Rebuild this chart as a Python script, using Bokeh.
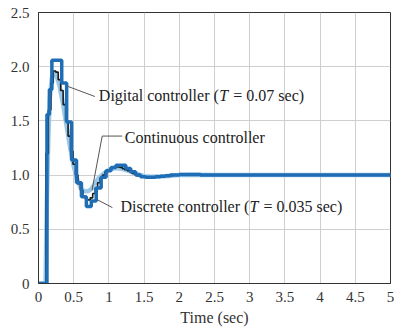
from bokeh.plotting import figure
from bokeh.models import Range1d, FixedTicker
from bokeh.core.properties import value
from bokeh.embed import file_html
from bokeh.resources import INLINE

# ---- data ----
# continuous controller (smooth)
cont_t = [0, 0.10, 0.12, 0.14, 0.16, 0.19, 0.22, 0.25, 0.30, 0.35, 0.40, 0.45, 0.50, 0.55, 0.60,
          0.65, 0.70, 0.75, 0.80, 0.85, 0.90, 1.00, 1.10, 1.20, 1.30, 1.40, 1.50, 1.60, 1.80,
          2.00, 2.20, 2.50, 5.00]
cont_y = [0, 0, 0.80, 1.35, 1.70, 1.90, 1.95, 1.93, 1.82, 1.65, 1.45, 1.25, 1.08, 0.96, 0.88,
          0.85, 0.85, 0.87, 0.92, 0.97, 1.00, 1.05, 1.065, 1.055, 1.035, 1.01, 0.99, 0.985, 0.99,
          1.0, 1.004, 1.0, 1.0]

# discrete controller T = 0.035 (thin black staircase)
disc_t = [0, 0.105, 0.14, 0.175, 0.21, 0.245, 0.28, 0.315, 0.35, 0.385, 0.42, 0.455, 0.49, 0.525,
          0.56, 0.595, 0.63, 0.665, 0.70, 0.735, 0.77, 0.805, 0.84, 0.875, 0.91, 0.945, 0.98,
          1.015, 1.05, 1.085, 1.12, 1.155, 1.19, 1.225, 1.26, 1.295, 1.33, 1.365, 1.40, 1.435,
          1.47, 1.60, 1.70, 1.80, 1.90, 2.00, 2.30, 5.00]
disc_y = [0, 1.20, 1.60, 1.85, 1.96, 1.95, 1.88, 1.78, 1.65, 1.50, 1.36, 1.22, 1.10, 1.00,
          0.92, 0.86, 0.81, 0.78, 0.77, 0.79, 0.83, 0.88, 0.93, 0.97, 1.00, 1.03, 1.05,
          1.06, 1.07, 1.075, 1.075, 1.07, 1.06, 1.05, 1.04, 1.03, 1.015, 1.005, 0.995, 0.99,
          0.985, 0.985, 0.99, 0.995, 1.0, 1.003, 1.0, 1.0]

# digital controller T = 0.07 (thick blue staircase)
dig_t = [0, 0.12, 0.155, 0.19, 0.33, 0.40, 0.47, 0.54, 0.61, 0.68, 0.75, 0.82, 0.89, 0.96,
         1.03, 1.10, 1.24, 1.31, 1.38, 1.45, 1.52, 1.66, 1.73, 1.80, 1.87, 2.00, 2.30, 5.00]
dig_y = [0, 1.56, 1.79, 2.06, 1.85, 1.49, 1.14, 0.93, 0.80, 0.71, 0.76, 0.88, 0.98, 1.04,
         1.07, 1.09, 1.06, 1.03, 1.00, 0.985, 0.98, 0.985, 0.99, 0.995, 1.0, 1.005, 1.0, 1.0]

x_ticks = [0, 0.5, 1, 1.5, 2, 2.5, 3, 3.5, 4, 4.5, 5]
x_tick_labels = ["0", "0.5", "1", "1.5", "2", "2.5", "3", "3.5", "4", "4.5", "5"]
y_ticks = [0, 0.5, 1, 1.5, 2, 2.5]
y_tick_labels = ["0", "0.5", "1.0", "1.5", "2.0", "2.5"]

FONT = "Liberation Serif"

p = figure(width=394, height=328, output_backend="svg", toolbar_location=None,
           x_range=Range1d(0, 5), y_range=Range1d(0, 2.5),
           min_border_left=38, min_border_top=12, min_border_right=4, min_border_bottom=40)
p.background_fill_color = "white"
p.border_fill_color = "white"
p.outline_line_color = "#333333"
p.outline_line_width = 1

def key(v):
    return int(v) if float(v).is_integer() else v

p.xaxis.ticker = FixedTicker(ticks=x_ticks)
p.yaxis.ticker = FixedTicker(ticks=y_ticks)
p.xaxis.major_label_overrides = {key(v): s for v, s in zip(x_ticks, x_tick_labels)}
p.yaxis.major_label_overrides = {key(v): s for v, s in zip(y_ticks, y_tick_labels)}
for ax in (p.xaxis, p.yaxis):
    ax.major_tick_out = 0
    ax.major_tick_in = 0
    ax.minor_tick_out = 0
    ax.minor_tick_in = 0
    ax.axis_line_color = "#333333"
    ax.major_label_text_font = FONT
    ax.major_label_text_font_size = "15px"
    ax.major_label_text_color = "#333333"
    ax.major_label_standoff = 9
p.xaxis.major_label_standoff = 8
p.xaxis.axis_label = "Time (sec)"
p.xaxis.axis_label_text_font = FONT
p.xaxis.axis_label_text_font_size = "16px"
p.xaxis.axis_label_text_font_style = "normal"
p.xaxis.axis_label_text_color = "#333333"
p.xaxis.axis_label_standoff = 4

p.grid.grid_line_color = "#cfcfcf"
p.grid.grid_line_width = 1

# curves
p.line(cont_t, cont_y, line_color="#9cc8e8", line_width=4.5)
p.step(disc_t, disc_y, mode="after", line_color="#1a1a1a", line_width=1.6)
p.step(dig_t, dig_y, mode="after", line_color="#1f6db5", line_width=3.5)

# leader lines
p.line([0.41, 0.80], [1.82, 1.725], line_color="#555555", line_width=1)
p.line([1.19, 0.905, 0.76], [1.36, 1.36, 0.86], line_color="#555555", line_width=1)
p.line([1.05, 0.83], [0.70, 0.775], line_color="#555555", line_width=1)

def label(x, y, parts):
    off = 0
    for txt, style, w in parts:
        p.text(x=[x], y=[y], text=[txt], x_offset=off, text_font=value(FONT),
               text_font_size="16px", text_font_style=style, text_color="#222222",
               text_baseline="middle", text_align="left")
        off += w

label(0.857, 1.73, [("Digital controller (", "normal", 120.5), ("T", "italic", 14),
                    ("= 0.07 sec)", "normal", 0)])
label(1.226, 1.349, [("Continuous controller", "normal", 0)])
label(1.165, 0.706, [("Discrete controller (", "normal", 129), ("T", "italic", 14),
                     ("= 0.035 sec)", "normal", 0)])

open("out.html", "w").write(file_html(p, INLINE))
